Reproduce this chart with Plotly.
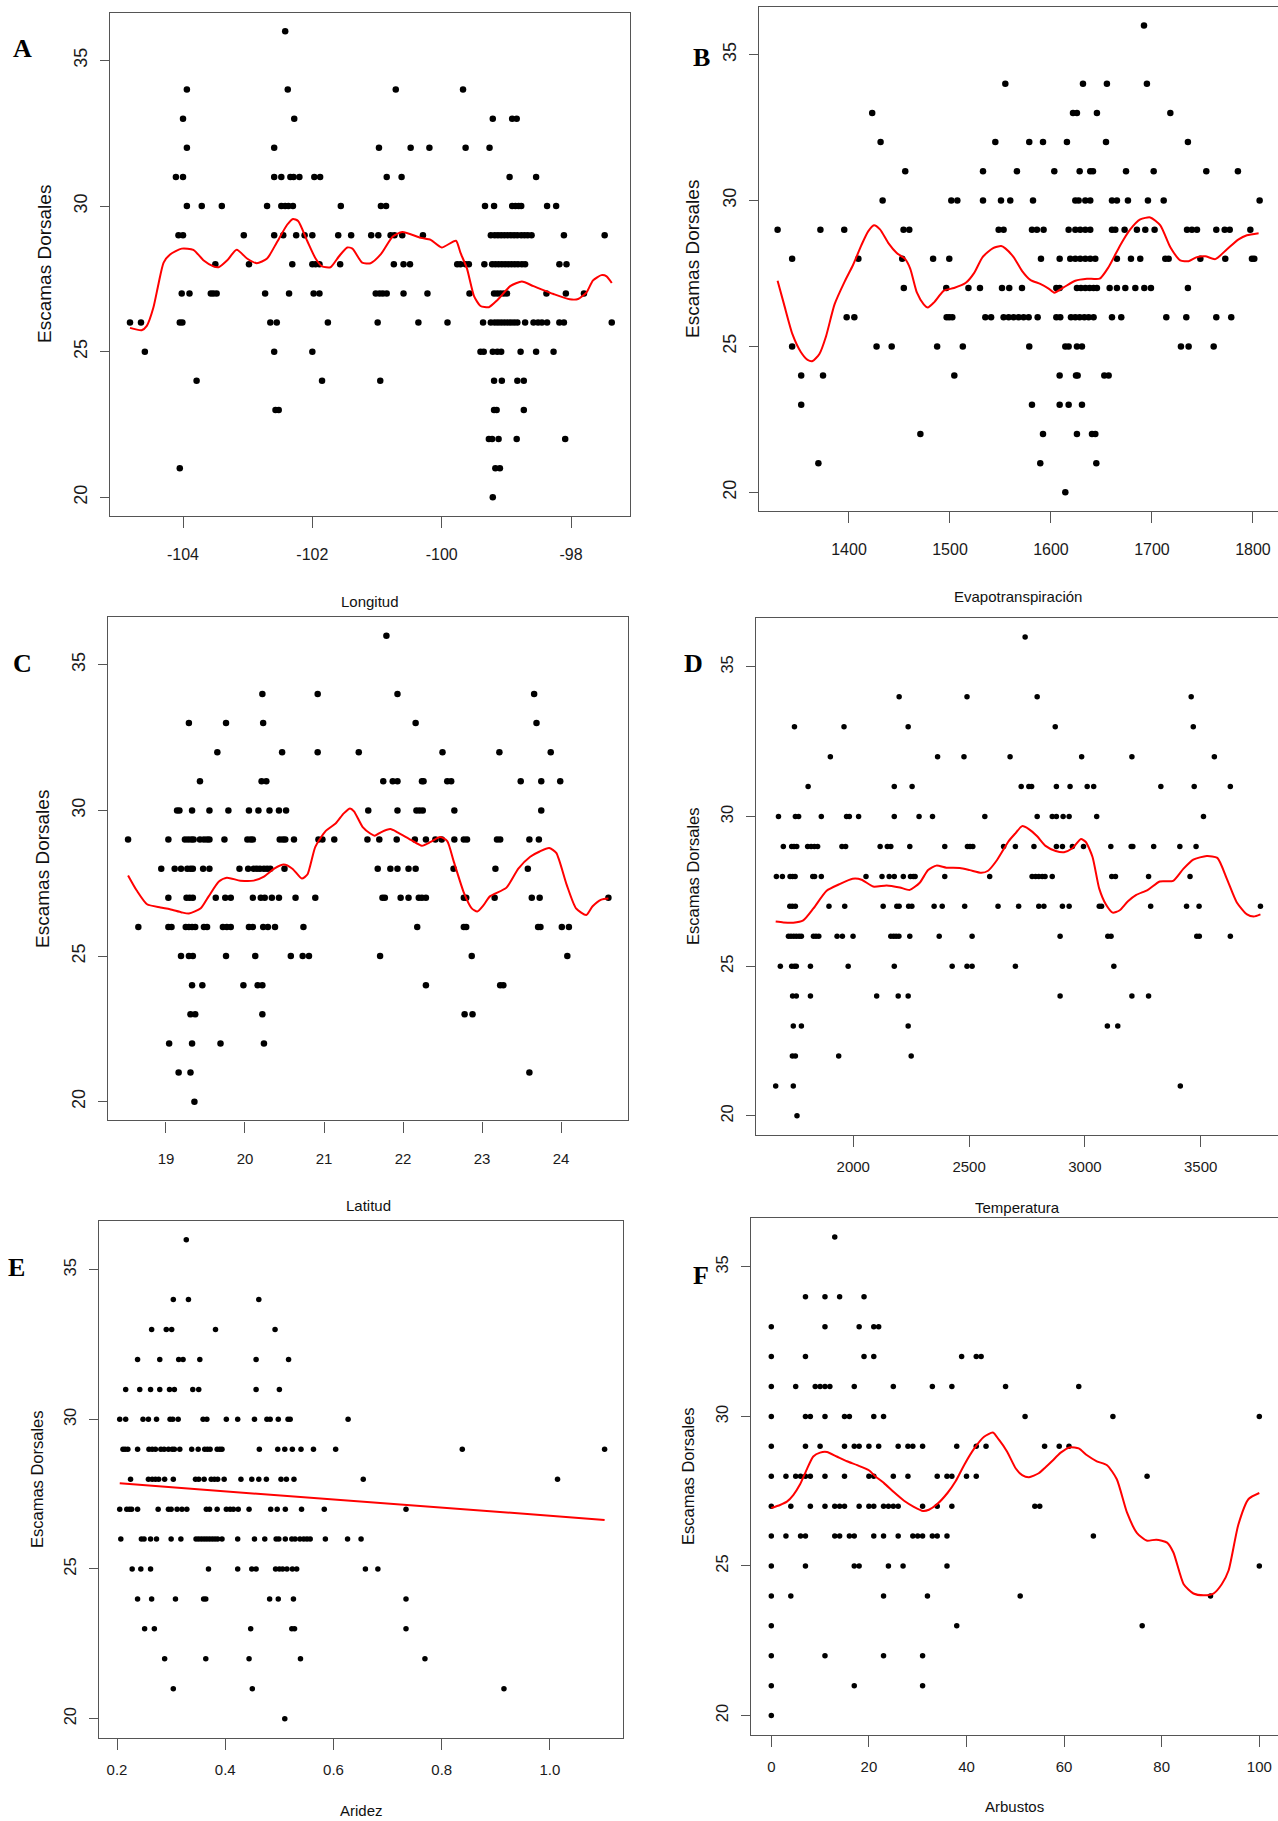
import plotly.graph_objects as go

W, H = 1278, 1821

# ---------------- data ----------------
levels = [36, 34, 33, 32, 31, 30, 29, 28, 27, 26, 25, 24, 23, 22, 21, 20]

# Panel A: Longitud
A_x = [
    [-102.42],
    [-103.94, -102.38, -100.71, -99.67],
    [-104.00, -102.28, -99.21, -98.91, -98.84],
    [-103.94, -102.59, -100.97, -100.48, -100.19, -99.63, -99.26],
    [-104.11, -104.00, -102.59, -102.48, -102.34, -102.29, -102.20, -101.97, -101.88, -100.85, -100.62, -98.95, -98.54],
    [-103.94, -103.71, -103.40, -102.70, -102.48, -102.42, -102.37, -102.30, -101.56, -100.94, -100.86, -99.33, -99.19,
     -98.91, -98.86, -98.81, -98.77, -98.37, -98.23],
    [-104.07, -104.00, -103.06, -102.59, -102.45, -102.25, -102.12, -102.00, -101.60, -101.40, -101.09, -100.98, -100.79,
     -100.73, -100.61, -100.29, -99.24, -99.18, -99.13, -99.08, -99.03, -98.98, -98.93, -98.88, -98.83, -98.77, -98.72,
     -98.67, -98.61, -98.11, -97.48],
    [-103.50, -102.98, -102.31, -102.00, -101.95, -101.89, -101.57, -100.74, -100.59, -100.49, -99.76, -99.71, -99.63,
     -99.58, -99.34, -99.22, -99.17, -99.12, -99.07, -99.02, -98.97, -98.92, -98.87, -98.82, -98.76, -98.71, -98.18, -98.07],
    [-104.02, -103.90, -103.57, -103.53, -103.48, -102.73, -102.36, -101.98, -101.89, -101.02, -100.96, -100.91, -100.85,
     -100.59, -100.22, -99.57, -99.19, -99.14, -99.09, -99.04, -98.99, -98.38, -98.08, -97.80],
    [-104.82, -104.65, -104.05, -104.01, -102.65, -102.55, -101.76, -100.99, -100.36, -99.91, -99.36, -99.24, -99.18,
     -99.13, -99.08, -99.03, -98.98, -98.93, -98.88, -98.83, -98.71, -98.58, -98.51, -98.45, -98.37, -98.18, -98.11, -97.37],
    [-104.59, -102.59, -102.00, -99.40, -99.35, -99.21, -99.14, -99.08, -98.78, -98.54, -98.27],
    [-103.79, -101.85, -100.95, -99.19, -99.07, -98.83, -98.73],
    [-102.57, -102.52, -99.19, -99.15, -98.73],
    [-99.27, -99.22, -99.12, -98.84, -98.09],
    [-104.05, -99.17, -99.10],
    [-99.21],
]
A_smooth_x = [-104.82, -104.64, -104.56, -104.46, -104.38, -104.30, -104.20, -104.02, -103.84, -103.68, -103.53, -103.45,
              -103.32, -103.17, -103.01, -102.86, -102.70, -102.55, -102.39, -102.30, -102.22, -102.08, -101.95, -101.85,
              -101.72, -101.59, -101.46, -101.38, -101.23, -101.10, -100.94, -100.76, -100.61, -100.32, -100.17, -100.00,
              -99.78, -99.71, -99.61, -99.50, -99.40, -99.27, -99.14, -98.94, -98.76, -98.58, -98.27, -98.02, -97.89,
              -97.76, -97.66, -97.53, -97.45, -97.37]
A_smooth_y = [25.82, 25.74, 25.89, 26.50, 27.32, 28.06, 28.34, 28.54, 28.50, 28.13, 27.93, 27.90, 28.13, 28.50, 28.20,
              28.04, 28.20, 28.75, 29.36, 29.56, 29.49, 28.81, 28.20, 27.93, 27.90, 28.27, 28.58, 28.54, 28.06, 28.04,
              28.35, 28.95, 29.11, 28.91, 28.84, 28.58, 28.81, 28.40, 27.86, 26.91, 26.57, 26.53, 26.77, 27.25, 27.41,
              27.25, 26.98, 26.80, 26.81, 27.04, 27.45, 27.63, 27.59, 27.36]

# Panel B: Evapotranspiración
B_x = [
    [1692.1],
    [1554.8, 1631.7, 1655.4, 1695.0],
    [1423.0, 1621.8, 1625.7, 1645.5, 1718.2],
    [1431.3, 1544.9, 1578.5, 1592.1, 1615.8, 1654.5, 1735.6],
    [1455.7, 1532.7, 1566.3, 1603.3, 1628.4, 1638.9, 1641.6, 1674.3, 1701.7, 1753.8, 1785.1],
    [1433.3, 1501.3, 1507.3, 1532.7, 1550.5, 1559.7, 1582.2, 1624.1, 1627.4, 1634.0, 1638.9, 1660.4, 1665.3, 1676.2,
     1696.0, 1711.6, 1806.6],
    [1329.3, 1371.7, 1395.3, 1454.0, 1459.7, 1548.2, 1553.1, 1581.2, 1586.1, 1592.7, 1617.5, 1624.1, 1629.0, 1634.0,
     1638.9, 1660.4, 1663.7, 1672.9, 1685.1, 1693.4, 1702.6, 1734.7, 1739.6, 1744.6, 1763.7, 1772.0, 1777.0, 1797.4],
    [1343.7, 1409.3, 1452.7, 1483.3, 1499.3, 1590.1, 1608.6, 1619.1, 1624.1, 1629.0, 1634.0, 1638.9, 1643.9, 1665.3,
     1679.2, 1688.4, 1713.2, 1716.5, 1747.9, 1772.6, 1799.0, 1801.3],
    [1454.3, 1496.3, 1518.3, 1529.7, 1551.5, 1558.7, 1571.3, 1605.3, 1608.6, 1625.7, 1629.7, 1634.0, 1638.3, 1642.2,
     1645.5, 1658.1, 1665.3, 1673.6, 1683.5, 1692.4, 1699.0, 1735.6],
    [1397.7, 1405.3, 1496.7, 1499.3, 1502.3, 1535.0, 1540.7, 1553.1, 1558.1, 1563.0, 1568.0, 1572.9, 1577.9, 1586.8,
     1605.3, 1609.2, 1619.8, 1624.1, 1628.4, 1633.0, 1637.3, 1642.2, 1660.4, 1669.6, 1714.2, 1734.0, 1763.7, 1778.5],
    [1343.7, 1427.3, 1442.3, 1487.3, 1512.7, 1578.5, 1614.2, 1617.5, 1625.7, 1630.7, 1728.7, 1736.3, 1761.1],
    [1352.7, 1374.3, 1504.3, 1608.6, 1624.8, 1626.4, 1652.8, 1657.1],
    [1352.7, 1581.2, 1608.6, 1617.5, 1630.7],
    [1470.7, 1592.1, 1625.7, 1640.6, 1643.9],
    [1369.7, 1589.4, 1644.9],
    [1614.2],
]
B_smooth_x = [1329.3, 1335.7, 1344.0, 1352.3, 1359.0, 1364.0, 1370.7, 1377.3, 1385.7, 1395.7, 1404.0, 1412.3, 1419.0,
              1424.7, 1430.7, 1439.0, 1447.3, 1455.7, 1460.7, 1467.3, 1474.0, 1478.0, 1484.0, 1494.0, 1504.0, 1515.7,
              1524.0, 1532.3, 1542.3, 1550.7, 1554.8, 1563.0, 1571.3, 1579.5, 1589.4, 1597.7, 1603.3, 1612.5, 1624.1,
              1635.6, 1648.2, 1657.1, 1668.6, 1678.5, 1688.4, 1698.3, 1708.3, 1718.2, 1728.0, 1736.3, 1744.6, 1752.8,
              1762.7, 1774.3, 1785.8, 1794.0, 1805.6]
B_smooth_y = [27.25, 26.44, 25.42, 24.81, 24.54, 24.50, 24.74, 25.35, 26.44, 27.22, 27.79, 28.47, 28.94, 29.15, 29.01,
              28.54, 28.20, 27.99, 27.66, 26.84, 26.44, 26.33, 26.50, 26.91, 27.00, 27.18, 27.52, 28.06, 28.36, 28.44,
              28.36, 28.06, 27.59, 27.28, 27.14, 26.98, 26.84, 27.02, 27.25, 27.32, 27.32, 27.72, 28.47, 29.01, 29.35,
              29.42, 29.15, 28.40, 27.95, 27.92, 28.06, 28.09, 27.99, 28.33, 28.67, 28.81, 28.88]

# Panel C: Latitud
C_x = [
    [21.79],
    [20.22, 20.92, 21.93, 23.66],
    [19.29, 19.76, 20.23, 22.16, 23.69],
    [19.65, 20.47, 20.92, 21.44, 22.50, 23.22, 23.87],
    [19.43, 20.21, 20.27, 21.75, 21.87, 21.93, 22.24, 22.26, 22.56, 22.61, 23.49, 23.75, 23.99],
    [19.14, 19.17, 19.33, 19.55, 19.79, 20.05, 20.17, 20.31, 20.43, 20.52, 21.56, 21.93, 22.17, 22.21, 22.25, 22.65, 23.75],
    [18.52, 19.03, 19.24, 19.28, 19.32, 19.35, 19.43, 19.48, 19.52, 19.55, 19.74, 20.03, 20.07, 20.10, 20.44, 20.48,
     20.51, 20.62, 20.93, 20.98, 21.13, 21.55, 21.70, 21.92, 22.15, 22.29, 22.41, 22.49, 22.65, 22.77, 22.81, 23.19,
     23.23, 23.60, 23.72],
    [18.94, 19.11, 19.19, 19.27, 19.31, 19.34, 19.47, 19.55, 19.93, 20.04, 20.11, 20.15, 20.19, 20.24, 20.28, 20.32,
     20.50, 21.68, 21.84, 21.93, 22.07, 22.16, 22.64, 23.17, 23.58],
    [19.03, 19.26, 19.30, 19.34, 19.63, 19.75, 19.82, 20.10, 20.20, 20.25, 20.34, 20.43, 20.64, 20.89, 21.74, 21.77,
     21.97, 22.07, 22.20, 22.24, 22.29, 22.77, 22.80, 23.16, 23.63, 23.73, 24.60],
    [18.65, 19.03, 19.07, 19.25, 19.29, 19.33, 19.37, 19.48, 19.52, 19.72, 19.77, 19.82, 20.05, 20.10, 20.23, 20.29,
     20.38, 20.74, 22.18, 22.77, 22.80, 23.71, 23.74, 24.01, 24.10],
    [19.19, 19.29, 19.34, 19.76, 20.13, 20.58, 20.73, 20.81, 21.71, 22.87, 24.08],
    [19.33, 19.46, 19.98, 20.16, 20.22, 22.29, 23.23, 23.27],
    [19.31, 19.37, 20.22, 22.78, 22.88],
    [19.04, 19.33, 19.69, 20.24],
    [19.16, 19.31, 23.60],
    [19.36],
]
C_smooth_x = [18.52, 18.63, 18.76, 18.93, 19.05, 19.20, 19.29, 19.44, 19.54, 19.67, 19.77, 19.94, 20.11, 20.24, 20.37,
              20.49, 20.60, 20.72, 20.79, 20.89, 21.02, 21.15, 21.25, 21.33, 21.38, 21.49, 21.59, 21.64, 21.72, 21.84,
              21.93, 22.10, 22.24, 22.35, 22.47, 22.56, 22.64, 22.77, 22.87, 22.94, 23.02, 23.10, 23.31, 23.46, 23.61,
              23.73, 23.85, 23.94, 24.07, 24.19, 24.32, 24.40, 24.51, 24.60]
C_smooth_y = [27.77, 27.25, 26.78, 26.67, 26.61, 26.50, 26.46, 26.64, 27.05, 27.56, 27.69, 27.59, 27.59, 27.73, 28.00,
              28.14, 28.00, 27.66, 27.80, 28.75, 29.29, 29.56, 29.90, 30.07, 29.97, 29.43, 29.20, 29.13, 29.25, 29.36,
              29.25, 28.99, 28.79, 28.92, 29.09, 28.95, 28.27, 27.18, 26.64, 26.53, 26.75, 27.05, 27.35, 28.00, 28.41,
              28.59, 28.71, 28.54, 27.46, 26.64, 26.41, 26.71, 26.94, 26.98]

# Panel D: Temperatura
D_x = [
    [2742],
    [2198, 2491, 2794, 3459],
    [1746, 1960, 2237, 2872, 3468],
    [1901, 2364, 2478, 2677, 2986, 3203, 3559],
    [1805, 2177, 2254, 2725, 2758, 2770, 2877, 2936, 3010, 3038, 3328, 3472, 3628],
    [1677, 1750, 1764, 1862, 1971, 1983, 2023, 2177, 2284, 2342, 2568, 2794, 2859, 2877, 2906, 2932, 3051, 3512],
    [1698, 1734, 1744, 1756, 1803, 1818, 1832, 1846, 1951, 1967, 2116, 2147, 2162, 2244, 2395, 2493, 2504, 2516, 2649,
     2700, 2780, 2877, 2903, 2946, 2994, 3112, 3200, 3207, 3297, 3410, 3480],
    [1668, 1694, 1727, 1738, 1749, 1825, 1833, 1862, 2055, 2124, 2155, 2177, 2216, 2247, 2259, 2267, 2395, 2589, 2772,
     2787, 2801, 2816, 2828, 2859, 3116, 3132, 3275, 3454],
    [1726, 1737, 1750, 1895, 1963, 2129, 2188, 2198, 2239, 2253, 2349, 2384, 2481, 2625, 2714, 2801, 2823, 2903, 2932,
     3062, 3072, 3284, 3439, 3493, 3758],
    [1720, 1731, 1743, 1754, 1766, 1776, 1828, 1839, 1851, 1930, 1953, 1999, 2162, 2174, 2185, 2197, 2244, 2371, 2513,
     2893, 3099, 3113, 3483, 3494, 3628],
    [1685, 1734, 1746, 1754, 1815, 1978, 2177, 2427, 2491, 2513, 2700, 3125],
    [1738, 1754, 1815, 2101, 2194, 2237, 2893, 3203, 3275],
    [1741, 1776, 2237, 3097, 3142],
    [1737, 1750, 1937, 2250],
    [1665, 1741, 3412],
    [1757],
]
D_smooth_x = [1665, 1698, 1741, 1784, 1828, 1885, 1943, 1997, 2036, 2086, 2144, 2201, 2244, 2287, 2323, 2359, 2402,
              2460, 2503, 2553, 2582, 2620, 2671, 2700, 2729, 2758, 2794, 2830, 2874, 2910, 2946, 2983, 3004, 3033,
              3062, 3091, 3120, 3149, 3186, 3222, 3272, 3323, 3381, 3425, 3468, 3526, 3572, 3613, 3656, 3700, 3729, 3758]
D_smooth_y = [26.49, 26.46, 26.45, 26.53, 26.93, 27.52, 27.75, 27.92, 27.89, 27.66, 27.70, 27.63, 27.55, 27.79, 28.21,
              28.36, 28.29, 28.28, 28.21, 28.12, 28.19, 28.54, 29.18, 29.44, 29.68, 29.58, 29.34, 29.02, 28.85, 28.81,
              28.94, 29.25, 29.15, 28.65, 27.59, 27.06, 26.79, 26.86, 27.17, 27.38, 27.55, 27.83, 27.85, 28.25, 28.56,
              28.68, 28.62, 27.92, 27.13, 26.73, 26.66, 26.73]

# Panel E: Aridez
E_x = [
    [0.328],
    [0.304, 0.332, 0.462],
    [0.264, 0.291, 0.301, 0.382, 0.492],
    [0.238, 0.279, 0.314, 0.322, 0.353, 0.457, 0.517],
    [0.216, 0.242, 0.262, 0.279, 0.297, 0.306, 0.340, 0.351, 0.457, 0.500],
    [0.205, 0.216, 0.248, 0.258, 0.273, 0.298, 0.303, 0.313, 0.359, 0.366, 0.402, 0.423, 0.454, 0.477, 0.483, 0.498,
     0.516, 0.520, 0.627],
    [0.211, 0.215, 0.220, 0.238, 0.259, 0.265, 0.271, 0.281, 0.287, 0.295, 0.302, 0.306, 0.316, 0.338, 0.350, 0.362,
     0.367, 0.372, 0.385, 0.390, 0.394, 0.463, 0.497, 0.510, 0.524, 0.540, 0.563, 0.604, 0.838, 1.101],
    [0.225, 0.258, 0.265, 0.271, 0.277, 0.288, 0.304, 0.345, 0.351, 0.361, 0.374, 0.380, 0.386, 0.398, 0.429, 0.449,
     0.462, 0.476, 0.503, 0.513, 0.527, 0.655, 1.014],
    [0.205, 0.218, 0.223, 0.227, 0.238, 0.276, 0.295, 0.300, 0.311, 0.320, 0.329, 0.365, 0.371, 0.385, 0.402, 0.409,
     0.415, 0.424, 0.444, 0.484, 0.496, 0.511, 0.541, 0.583, 0.734],
    [0.207, 0.245, 0.250, 0.262, 0.273, 0.300, 0.318, 0.346, 0.351, 0.356, 0.361, 0.366, 0.371, 0.376, 0.381, 0.386,
     0.394, 0.423, 0.454, 0.473, 0.494, 0.499, 0.511, 0.523, 0.529, 0.538, 0.545, 0.551, 0.557, 0.585, 0.626, 0.651],
    [0.228, 0.244, 0.262, 0.369, 0.423, 0.449, 0.457, 0.493, 0.500, 0.506, 0.514, 0.524, 0.532, 0.659, 0.682],
    [0.238, 0.264, 0.308, 0.360, 0.364, 0.482, 0.498, 0.526, 0.734],
    [0.251, 0.269, 0.447, 0.523, 0.528, 0.734],
    [0.288, 0.364, 0.444, 0.539, 0.769],
    [0.304, 0.450, 0.915],
    [0.510],
]
E_fit_intercept = 28.14
E_fit_slope = -1.362

# Panel F: Arbustos
F_x = [
    [13],
    [7, 11, 14, 19],
    [0, 11, 18, 21, 22],
    [0, 7, 19, 21, 39, 42, 43],
    [0, 5, 9, 10, 11, 12, 17, 25, 33, 37, 48, 63],
    [0, 7, 8, 11, 15, 16, 21, 23, 52, 70, 100],
    [0, 7, 10, 15, 17, 18, 20, 22, 26, 28, 29, 31, 38, 42, 44, 56, 59, 61],
    [0, 3, 5, 6, 7, 8, 11, 15, 20, 21, 25, 28, 34, 36, 37, 40, 42, 77],
    [0, 4, 8, 11, 13, 14, 15, 18, 20, 21, 23, 24, 25, 26, 31, 34, 37, 54, 55],
    [0, 3, 6, 7, 13, 14, 16, 17, 21, 23, 26, 29, 30, 31, 33, 34, 36, 66],
    [0, 7, 17, 18, 24, 27, 36, 100],
    [0, 4, 23, 32, 51, 90],
    [0, 38, 76],
    [0, 11, 23, 31],
    [0, 17, 31],
    [0],
]
F_smooth_x = [0, 1.8, 3.2, 4.5, 5.9, 7.3, 8.6, 10.0, 11.4, 13.4, 15.5, 17.6, 20.0, 21.3, 23.1, 25.1, 27.2, 29.2, 31.1,
              32.3, 34.0, 36.1, 37.8, 39.5, 41.6, 43.6, 45.4, 46.6, 48.3, 50.1, 51.4, 52.8, 54.8, 56.2, 57.5, 59.3,
              61.3, 63.0, 64.7, 66.7, 68.8, 70.8, 72.9, 74.9, 76.9, 78.9, 81.1, 82.4, 84.5, 86.5, 88.6, 90.6, 92.3,
              93.7, 95.7, 97.8, 100]
F_smooth_y = [26.94, 27.04, 27.15, 27.37, 27.73, 28.24, 28.66, 28.79, 28.81, 28.66, 28.50, 28.37, 28.20, 28.00, 27.77,
              27.47, 27.18, 26.98, 26.84, 26.88, 27.07, 27.44, 27.84, 28.37, 28.93, 29.32, 29.46, 29.23, 28.83, 28.26,
              28.04, 27.97, 28.10, 28.30, 28.50, 28.79, 28.97, 28.93, 28.70, 28.50, 28.37, 27.90, 26.78, 26.11, 25.85,
              25.88, 25.78, 25.45, 24.39, 24.08, 24.02, 24.08, 24.39, 24.85, 26.38, 27.24, 27.44]

y_title = "Escamas Dorsales"
y_ticks = [20, 25, 30, 35]

# ---------------- layout helpers ----------------
def fx(p):
    return p / W


def fy(p):
    return 1 - p / H


def flatten(xs_by_level):
    xs, ys = [], []
    for lev, row in zip(levels, xs_by_level):
        xs.extend(row)
        ys.extend([lev] * len(row))
    return xs, ys


E_xmin = min(min(r) for r in E_x)
E_xmax = max(max(r) for r in E_x)
E_fit_x = [E_xmin, E_xmax]
E_fit_y = [E_fit_intercept + E_fit_slope * v for v in E_fit_x]

panels = [
    dict(letter="A", pts=A_x, sx=A_smooth_x, sy=A_smooth_y, xr=[-105.129, -97.088],
         box=(110, 630, 12.7, 516), xt=[-104, -102, -100, -98], xtt=["-104", "-102", "-100", "-98"],
         xtitle="Longitud", xtpos=(370, 601), ytpos=(45, 264), lpos=(22, 49),
         yfs=19, ytfs=18, xtfs=16, ms=6.5, xso=13, rmirror=True),
    dict(letter="B", pts=B_x, sx=B_smooth_x, sy=B_smooth_y, xr=[1310.9, 1824.8],
         box=(759, 1278, 6.7, 511), xt=[1400, 1500, 1600, 1700, 1800], xtt=["1400", "1500", "1600", "1700", "1800"],
         xtitle="Evapotranspiración", xtpos=(1018, 597), ytpos=(693, 259), lpos=(701, 58),
         yfs=19, ytfs=18, xtfs=16, ms=6.5, xso=13, rmirror=True),
    dict(letter="C", pts=C_x, sx=C_smooth_x, sy=C_smooth_y, xr=[18.266, 24.848],
         box=(108, 628, 617, 1120.4), xt=[19, 20, 21, 22, 23, 24], xtt=["19", "20", "21", "22", "23", "24"],
         xtitle="Latitud", xtpos=(368, 1205), ytpos=(42, 869), lpos=(22, 663),
         yfs=19, ytfs=18, xtfs=15, ms=6.5, xso=13, rmirror=True),
    dict(letter="D", pts=D_x, sx=D_smooth_x, sy=D_smooth_y, xr=[1580, 3833.8],
         box=(756, 1278, 617.8, 1135), xt=[2000, 2500, 3000, 3500], xtt=["2000", "2500", "3000", "3500"],
         xtitle="Temperatura", xtpos=(1018, 1207), ytpos=(693, 876), lpos=(693, 663),
         yfs=16.5, ytfs=16.5, xtfs=15, ms=5.5, xso=7, rmirror=False),
    dict(letter="E", pts=E_x, sx=E_fit_x, sy=E_fit_y, xr=[0.1667, 1.135],
         box=(99, 623, 1220.6, 1737.8), xt=[0.2, 0.4, 0.6, 0.8, 1.0], xtt=["0.2", "0.4", "0.6", "0.8", "1.0"],
         xtitle="Aridez", xtpos=(361, 1810), ytpos=(37, 1479), lpos=(16, 1267),
         yfs=16.5, ytfs=16.5, xtfs=15, ms=5.5, xso=7, rmirror=True),
    dict(letter="F", pts=F_x, sx=F_smooth_x, sy=F_smooth_y, xr=[-4.16, 103.83],
         box=(751, 1278, 1217.8, 1734.7), xt=[0, 20, 40, 60, 80, 100], xtt=["0", "20", "40", "60", "80", "100"],
         xtitle="Arbustos", xtpos=(1014, 1806), ytpos=(688, 1476), lpos=(701, 1275),
         yfs=16.5, ytfs=16.5, xtfs=15, ms=5.5, xso=7, rmirror=False),
]

SANS = "Liberation Sans, Arial, Helvetica, sans-serif"
SERIF = "Liberation Serif, Times New Roman, serif"
AXC = "#555555"

fig = go.Figure()
layout = dict(
    width=W, height=H, autosize=False,
    margin=dict(l=0, r=0, t=0, b=0, pad=0),
    paper_bgcolor="white", plot_bgcolor="white",
    showlegend=False, font=dict(family=SANS, color="#111111"),
)
annotations = []

for i, p in enumerate(panels, start=1):
    xa = "x" if i == 1 else f"x{i}"
    ya = "y" if i == 1 else f"y{i}"
    xs, ys = flatten(p["pts"])
    fig.add_trace(go.Scatter(x=xs, y=ys, mode="markers", xaxis=xa, yaxis=ya,
                             marker=dict(color="black", size=p["ms"], line=dict(width=0)),
                             hoverinfo="x+y"))
    fig.add_trace(go.Scatter(x=p["sx"], y=p["sy"], mode="lines", xaxis=xa, yaxis=ya,
                             line=dict(color="#ff0000", width=2, shape="spline", smoothing=0.6),
                             hoverinfo="skip"))
    x0, x1, y0, y1 = p["box"]
    xkey = "xaxis" if i == 1 else f"xaxis{i}"
    ykey = "yaxis" if i == 1 else f"yaxis{i}"
    layout[xkey] = dict(
        domain=[fx(x0), min(1.0, fx(x1))], anchor=ya, range=p["xr"],
        tickmode="array", tickvals=p["xt"], ticktext=p["xtt"],
        showline=True, mirror=True, linecolor=AXC, linewidth=1.2,
        ticks="outside", ticklen=11, tickcolor=AXC, tickwidth=1.2,
        showgrid=False, zeroline=False, ticklabelstandoff=p["xso"],
        tickfont=dict(family=SANS, size=p["xtfs"], color="#1a1a1a"),
    )
    layout[ykey] = dict(
        domain=[fy(y1), fy(y0)], anchor=xa, range=[19.36, 36.64],
        tickmode="array", tickvals=y_ticks, ticktext=[str(v) for v in y_ticks],
        showline=True, mirror=p["rmirror"], linecolor=AXC, linewidth=1.2,
        ticks="outside", ticklen=9, tickcolor=AXC, tickwidth=1.2, tickangle=-90,
        showgrid=False, zeroline=False, ticklabelstandoff=6,
        tickfont=dict(family=SANS, size=p["ytfs"], color="#1a1a1a"),
    )
    annotations.append(dict(text=p["xtitle"], xref="paper", yref="paper",
                            x=fx(p["xtpos"][0]), y=fy(p["xtpos"][1]), xanchor="center", yanchor="middle",
                            showarrow=False, font=dict(family=SANS, size=15, color="#111111")))
    annotations.append(dict(text=y_title, xref="paper", yref="paper", textangle=-90,
                            x=fx(p["ytpos"][0]), y=fy(p["ytpos"][1]), xanchor="center", yanchor="middle",
                            showarrow=False, font=dict(family=SANS, size=p["yfs"], color="#111111")))
    annotations.append(dict(text="<b>" + p["letter"] + "</b>", xref="paper", yref="paper",
                            x=fx(p["lpos"][0]), y=fy(p["lpos"][1]), xanchor="center", yanchor="middle",
                            showarrow=False, font=dict(family=SERIF, size=26, color="black")))

layout["annotations"] = annotations
fig.update_layout(**layout)
fig.write_html("out.html", include_plotlyjs=True, full_html=True)
